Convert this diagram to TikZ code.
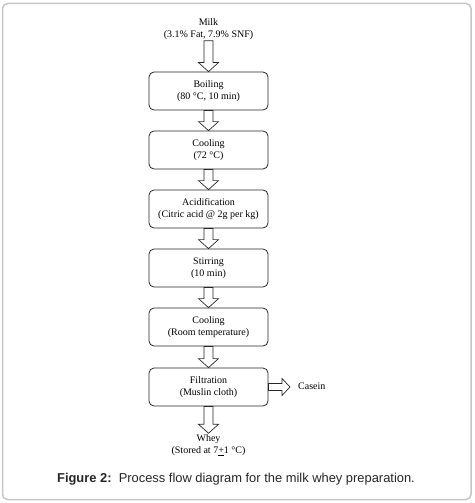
\documentclass[tikz,border=0pt]{standalone}
\usepackage{fontspec}
\setmainfont{Liberation Serif}
\newfontfamily\capfont{Liberation Sans}
\usetikzlibrary{calc}
\begin{document}
\begin{tikzpicture}[x=1pt,y=-1pt,
  box/.style={draw=black!85, rounded corners=5pt, minimum width=119pt, minimum height=38pt,
    align=center, font=\fontsize{10}{12}\selectfont, inner sep=0pt, line width=0.8pt},
  txt/.style={align=center, font=\fontsize{10}{12}\selectfont, inner sep=1pt},
  downblk/.style={draw=black!85, line width=0.7pt, line join=miter,
    to path={let \p1=(\tikztostart), \p2=(\tikztotarget) in
      (\x1-4.5pt,\y1) -- (\x1-4.5pt,\y2+9pt) -- (\x1-10pt,\y2+9pt) -- (\x1,\y2)
      -- (\x1+10pt,\y2+9pt) -- (\x1+4.5pt,\y2+9pt) -- (\x1+4.5pt,\y1) -- cycle}},
  rightblk/.style={draw=black!85, line width=0.7pt, line join=miter,
    to path={let \p1=(\tikztostart), \p2=(\tikztotarget) in
      (\x1,\y1+3.5pt) -- (\x2-8pt,\y1+3.5pt) -- (\x2-8pt,\y1+8.5pt) -- (\x2,\y1)
      -- (\x2-8pt,\y1-8.5pt) -- (\x2-8pt,\y1-3.5pt) -- (\x1,\y1-3.5pt) -- cycle}}
]
\useasboundingbox (0,0) rectangle (474,503);
\draw[gray!45, line width=1.5pt, rounded corners=5pt] (2.5,3.5) rectangle (471,499.5);

\node[txt] (milk) at (208.5,29) {Milk\\(3.1\% Fat, 7.9\% SNF)};
\node[box] (boil) at (208.5,91) {Boiling\\(80 °C, 10 min)};
\node[box] (cool1) at (208.5,150) {Cooling\\(72 °C)};
\node[box] (acid) at (208.5,209) {Acidification\\(Citric acid @ 2g per kg)};
\node[box] (stir) at (208.5,268) {Stirring\\(10 min)};
\node[box] (cool2) at (208.5,327) {Cooling\\(Room temperature)};
\node[box] (filt) at (208.5,387) {Filtration\\(Muslin cloth)};
\node[txt] (whey) at (208.5,445) {Whey\\(Stored at 7\underline{+}1 °C)};
\node[txt, inner xsep=8pt, anchor=west] (casein) at (290,386) {Casein};

\draw[downblk] (milk.south) to (boil.north);
\draw[downblk] (boil.south) to (cool1.north);
\draw[downblk] (cool1.south) to (acid.north);
\draw[downblk] (acid.south) to (stir.north);
\draw[downblk] (stir.south) to (cool2.north);
\draw[downblk] (cool2.south) to (filt.north);
\draw[downblk] (filt.south) to (whey.north);
\draw[rightblk] (filt.east) to (casein.west);

\node[font=\capfont\fontsize{12.9}{15}\selectfont, text=black!85, inner sep=0pt] (cap) at (236,479)
  {\textbf{Figure 2:}\ \ Process flow diagram for the milk whey preparation.};
\end{tikzpicture}
\end{document}
